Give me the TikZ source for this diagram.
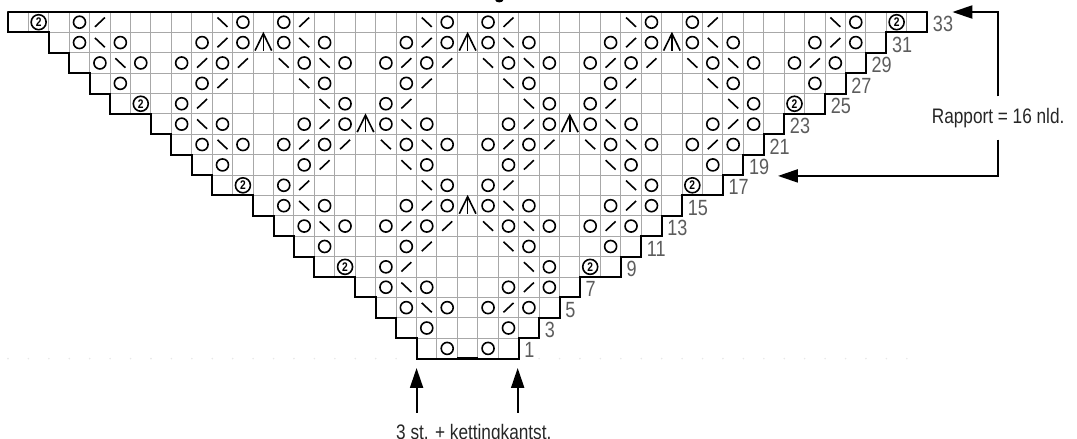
\documentclass[tikz,border=0pt]{standalone}
\usepackage{fontspec}
\setmainfont[FakeStretch=0.82]{Liberation Sans}
\usetikzlibrary{arrows.meta}

\begin{document}
\begin{tikzpicture}[x=20.43pt, y=-20.39pt,
    cellline/.style={line width=1pt, gridgray},
    rand/.style={line width=2pt, line cap=round, line join=miter},
    teken/.style={line width=1.6pt, black},
    twoteken/.style={circle, draw, line width=1.6pt, minimum size=15pt, inner sep=0pt, font=\fontsize{12.5pt}{12.5pt}\selectfont\bfseries},
    nummer/.style={anchor=west, inner sep=0pt, numgray, font=\fontsize{22pt}{22pt}\selectfont},
    uitleg/.style={inner sep=0pt, textgray, font=\fontsize{21pt}{21pt}\selectfont},
    pijl/.style={-{Triangle[length=20pt,width=13pt]}, line width=2.1pt}]

%my colors
\definecolor{gridgray}{rgb}{0.66, 0.66, 0.66}
\definecolor{numgray}{rgb}{0.36, 0.36, 0.36}
\definecolor{textgray}{rgb}{0.15, 0.15, 0.15}

    % Page size, the chart starts at (0,0)
    \useasboundingbox (-0.3916,-0.5885) rectangle (52.33,20.94);

    % Cells of each row: row/first/last
    \foreach \r/\a/\b in {0/0/45,1/2/43,2/3/42,3/4/41,4/5/40,5/7/38,6/8/37,7/9/36,8/10/35,
                          9/12/33,10/13/32,11/14/31,12/15/30,13/17/28,14/18/27,15/19/26,16/20/25} {
        \foreach \c in {\a,...,\b} \draw[cellline] (\c,\r) -- (\c,\r+1);
        \draw[cellline] (\a,\r) -- (\b,\r);
        \draw[cellline] (\a,\r+1) -- (\b,\r+1);
    }

    % Grid marks left on the bottom line
    \foreach \c in {0,...,19} \fill[black!9] (\c,17) circle (0.9pt);
    \foreach \c in {26,...,44} \fill[black!9] (\c,17) circle (0.9pt);

    % Outline of the chart, the top edge is lighter
    \draw[rand] (45,0) -- (45,1) -- (43,1) -- (43,2) -- (42,2) -- (42,3) -- (41,3) -- (41,4)
        -- (40,4) -- (40,5) -- (38,5) -- (38,6) -- (37,6) -- (37,7) -- (36,7) -- (36,8) -- (35,8) -- (35,9)
        -- (33,9) -- (33,10) -- (32,10) -- (32,11) -- (31,11) -- (31,12) -- (30,12) -- (30,13)
        -- (28,13) -- (28,14) -- (27,14) -- (27,15) -- (26,15) -- (26,16) -- (25,16) -- (25,17)
        -- (20,17) -- (20,16) -- (19,16) -- (19,15) -- (18,15) -- (18,14) -- (17,14) -- (17,13)
        -- (15,13) -- (15,12) -- (14,12) -- (14,11) -- (13,11) -- (13,10) -- (12,10) -- (12,9)
        -- (10,9) -- (10,8) -- (9,8) -- (9,7) -- (8,7) -- (8,6) -- (7,6) -- (7,5)
        -- (5,5) -- (5,4) -- (4,4) -- (4,3) -- (3,3) -- (3,2) -- (2,2) -- (2,1) -- (0,1) -- (0,0);
    \draw[line width=1.5pt, line cap=round] (0,0) -- (45,0);
    % Middle stitch is marked heavier
    \draw[line width=2.4pt] (22,0) -- (23,0);
    \draw[line width=2.6pt] (22,17) -- (23,17);

    % Round symbols
    \foreach \r/\cols in {0/{3,11,13,21,23,31,33,41},
                          1/{3,5,9,11,13,15,19,21,23,25,29,31,33,35,39,41},
                          2/{4,6,8,10,14,16,18,20,24,26,28,30,34,36,38,40},
                          3/{5,9,15,19,25,29,35,39},
                          4/{8,16,18,26,28,36},
                          5/{8,10,14,16,18,20,24,26,28,30,34,36},
                          6/{9,11,13,15,19,21,23,25,29,31,33,35},
                          7/{10,14,20,24,30,34},
                          8/{13,21,23,31},
                          9/{13,15,19,21,23,25,29,31},
                          10/{14,16,18,20,24,26,28,30},
                          11/{15,19,25,29},
                          12/{18,26},
                          13/{18,20,24,26},
                          14/{19,21,23,25},
                          15/{20,24},
                          16/{21,23}} {
        \foreach \c in \cols \draw[teken] (\c+.5,\r+.5) circle (6pt);
    }

    % Rising strokes
    \foreach \r/\cols in {0/{4,14,24,34},
                          1/{10,20,30,40},
                          2/{9,11,19,21,29,31,39},
                          3/{10,20,30},
                          4/{9,19,29},
                          5/{15,25,35},
                          6/{14,16,24,26,34},
                          7/{15,25},
                          8/{14,24},
                          9/{20,30},
                          10/{19,21,29},
                          11/{20},
                          12/{19},
                          13/{25},
                          14/{24}} {
        \foreach \c in \cols \draw[teken] (\c+.5,\r+.5) ++(-5pt,-4.7pt) -- ++(10pt,9.4pt);
    }

    % Falling strokes
    \foreach \r/\cols in {0/{10,20,30,40},
                          1/{4,14,24,34},
                          2/{5,13,15,23,25,33,35},
                          3/{14,24,34},
                          4/{15,25,35},
                          5/{9,19,29},
                          6/{10,18,20,28,30},
                          7/{19,29},
                          8/{20,30},
                          9/{14,24},
                          10/{15,23,25},
                          11/{24},
                          12/{25},
                          13/{19},
                          14/{20}} {
        \foreach \c in \cols \draw[teken] (\c+.5,\r+.5) ++(-5pt,4.7pt) -- ++(10pt,-9.4pt);
    }

    % Three stitches into one
    \foreach \r/\c in {1/12,1/22,1/32,5/17,5/27,9/22} {
        \draw[teken] (\c+.5,\r+.5) ++(-8.3pt,-8pt) -- ++(8.3pt,17pt) -- ++(8.3pt,-17pt);
        \draw[teken] (\c+.5,\r+.5) ++(0pt,-8pt) -- ++(0pt,17pt);
    }

    % Double yarn over
    \foreach \r/\c in {0/1,0/43,4/6,4/38,8/11,8/33,12/16,12/28} {
        \node[twoteken] (two\r-\c) at (\c+.5,\r+.5) {2};
    }

    % Row numbers
    \foreach \r/\b/\n in {0/45/33,1/43/31,2/42/29,3/41/27,4/40/25,5/38/23,6/37/21,7/36/19,8/35/17,
                          9/33/15,10/32/13,11/31/11,12/30/9,13/28/7,14/27/5,15/26/3,16/25/1} {
        \node[nummer] (n\n) at ([xshift=5.5pt,yshift=-2pt]\b,\r+.5) {\n};
    }

    % Repeat, with its two arrows
    \node[uitleg, minimum height=43pt] (rapport) at (48.47,5.2) {Rapport = 16 nld.};
    \coordinate (rapTop) at (46.23,0);
    \coordinate (rapBottom) at (37.69,8.04);
    \draw[pijl] (rapport.north) |- (rapTop);
    \draw[pijl] (rapport.south) |- (rapBottom);

    % Edge stitches, with their two arrows
    \node[uitleg, anchor=base, inner ysep=12pt] (kant) at (22.8,20.99) {3 st. + kettingkantst.};
    \coordinate (kantL) at (20,17.46);
    \coordinate (kantR) at (24.95,17.46);
    \draw[pijl] (kantL |- kant.north) -- (kantL);
    \draw[pijl] (kantR |- kant.north) -- (kantR);

    % Tail of the cut off heading above the chart
    \fill (24.05,-0.5885) ++(-4pt,0pt) arc[start angle=180, end angle=360, x radius=4pt, y radius=2.4pt] -- cycle;

\end{tikzpicture}
\end{document}
